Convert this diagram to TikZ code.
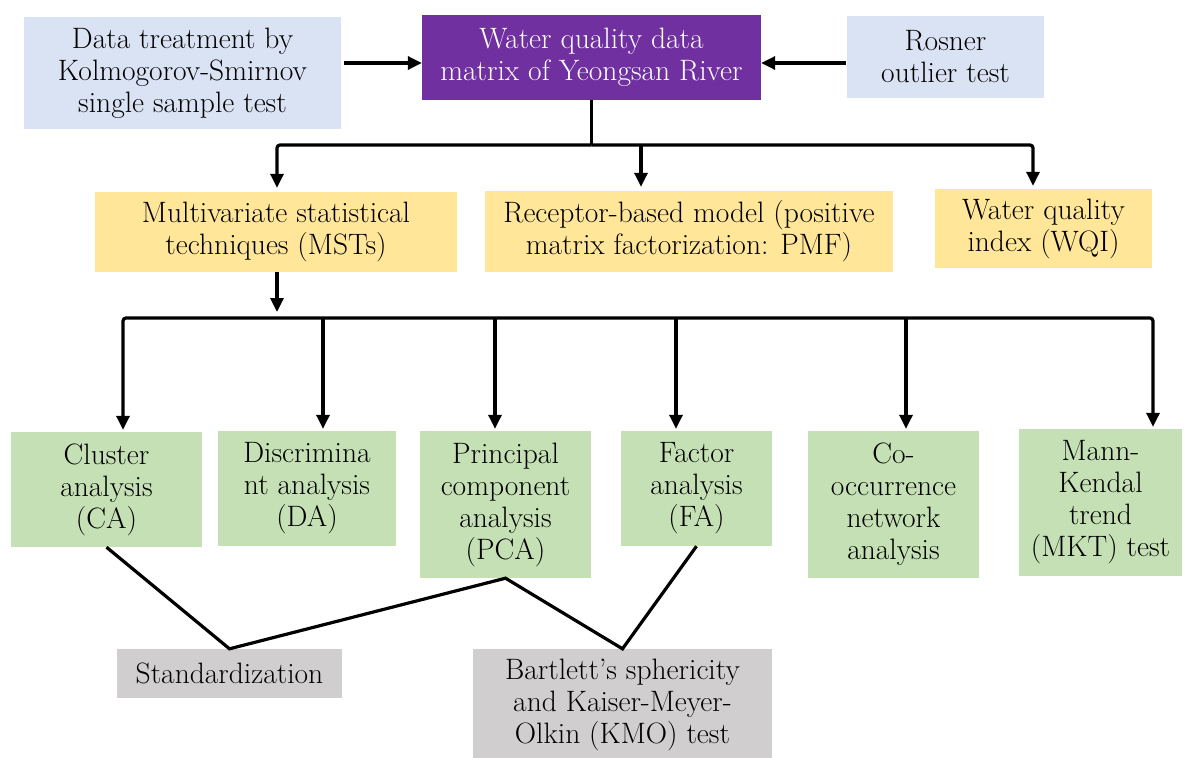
\documentclass[tikz,border=0pt]{standalone}
\usepackage{fontspec}
\usetikzlibrary{arrows.meta}
\definecolor{blu}{HTML}{DAE3F3}
\definecolor{pur}{HTML}{7030A0}
\definecolor{yel}{HTML}{FFE699}
\definecolor{grn}{HTML}{C5E0B4}
\definecolor{gry}{HTML}{D0CECE}
\begin{document}
\begin{tikzpicture}[x=1pt,y=-1pt,
  box/.style={inner sep=0pt, align=center, font=\fontsize{29.5}{32}\selectfont},
  bluebox/.style={box, fill=blu},
  purbox/.style={box, fill=pur, text=white},
  yelbox/.style={box, fill=yel},
  grnbox/.style={box, fill=grn},
  grybox/.style={box, fill=gry},
  ln/.style={line width=3.2pt, black},
  arr/.style={ln, -{Triangle[length=14pt,width=13pt]}},
]
\useasboundingbox (0,0) rectangle (1184,758);
\fill[white] (0,0) rectangle (1184,758);

% top row
\node[bluebox, minimum width=317pt, minimum height=112pt] (data) at (182.5,73)
  {Data treatment by\\Kolmogorov-Smirnov\\single sample test};
\node[purbox, minimum width=339pt, minimum height=85pt] (water) at (591.5,57.5)
  {Water quality data\\matrix of Yeongsan River};
\node[bluebox, minimum width=197pt, minimum height=82pt] (rosner) at (945.5,57)
  {Rosner\\outlier test};

% second row
\node[yelbox, minimum width=362pt, minimum height=80pt] (mst) at (276,232)
  {Multivariate statistical\\techniques (MSTs)};
\node[yelbox, minimum width=408pt, minimum height=81pt] (pmf) at (689,231.5)
  {Receptor-based model (positive\\matrix factorization: PMF)};
\node[yelbox, minimum width=217pt, minimum height=79pt] (wqi) at (1043.5,228.5)
  {Water quality\\index (WQI)};

% third row
\node[grnbox, minimum width=191pt, minimum height=115pt] (ca) at (106.5,489.5)
  {Cluster\\analysis\\(CA)};
\node[grnbox, minimum width=178pt, minimum height=115pt] (da) at (307,488.5)
  {Discrimina\\nt analysis\\(DA)};
\node[grnbox, minimum width=171pt, minimum height=147pt] (pca) at (505.5,504.5)
  {Principal\\component\\analysis\\(PCA)};
\node[grnbox, minimum width=151pt, minimum height=115pt] (fa) at (696.5,488.5)
  {Factor\\analysis\\(FA)};
\node[grnbox, minimum width=171pt, minimum height=147pt] (co) at (893.5,504.5)
  {Co-\\occurrence\\network\\analysis};
\node[grnbox, minimum width=163pt, minimum height=147pt] (mk) at (1100.5,502.5)
  {Mann-\\Kendal\\trend\\(MKT) test};

% bottom row
\node[grybox, minimum width=225pt, minimum height=49pt] (std) at (229.5,673.5)
  {Standardization};
\node[grybox, minimum width=299pt, minimum height=111pt] (bart) at (622.5,704.5)
  {Bartlett’s sphericity\\and Kaiser-Meyer-\\Olkin (KMO) test};

% top arrows
\draw[arr] ([xshift=3pt,yshift=-5.5pt]water.west -| data.east) -- ([yshift=-5.5pt]water.west);
\draw[arr] ([xshift=-1pt,yshift=-6pt]rosner.west) -- ([yshift=-6pt]rosner.west -| water.east);

% top bus
\coordinate (tb) at (591.5,145);
\draw[ln] (water.south) -- (tb);
\draw[arr, rounded corners=3pt] (tb) -| ([xshift=1pt,yshift=4pt]mst.north);
\draw[arr, rounded corners=3pt] (tb) -| ([xshift=-10.5pt,yshift=3pt]wqi.north);
\draw[arr] ([xshift=-48pt]pmf.north |- tb) -- ([xshift=-48pt,yshift=4pt]pmf.north);

% lower bus
\coordinate (lb) at (277,318);
\coordinate (d1) at (123,318);
\coordinate (d2) at (323,318);
\coordinate (d3) at (495,318);
\coordinate (d4) at (676,318);
\coordinate (d5) at (906,318);
\coordinate (d6) at (1153,318);
\draw[arr] (mst.south -| lb) -- ([yshift=6pt]lb);
\draw[arr, rounded corners=3pt] (lb) -| ([yshift=2pt]ca.north -| d1);
\draw[arr, rounded corners=3pt] (lb) -| ([yshift=2pt]mk.north -| d6);
\draw[arr] (d2) -- ([yshift=2pt]da.north -| d2);
\draw[arr] (d3) -- ([yshift=2pt]pca.north -| d3);
\draw[arr] (d4) -- ([yshift=2pt]fa.north -| d4);
\draw[arr] (d5) -- ([yshift=2pt]co.north -| d5);

% links to grey boxes
\draw[ln, line join=miter] (ca.south) -- (std.north) -- (pca.south) -- (bart.north) -- (fa.south);
\end{tikzpicture}
\end{document}
